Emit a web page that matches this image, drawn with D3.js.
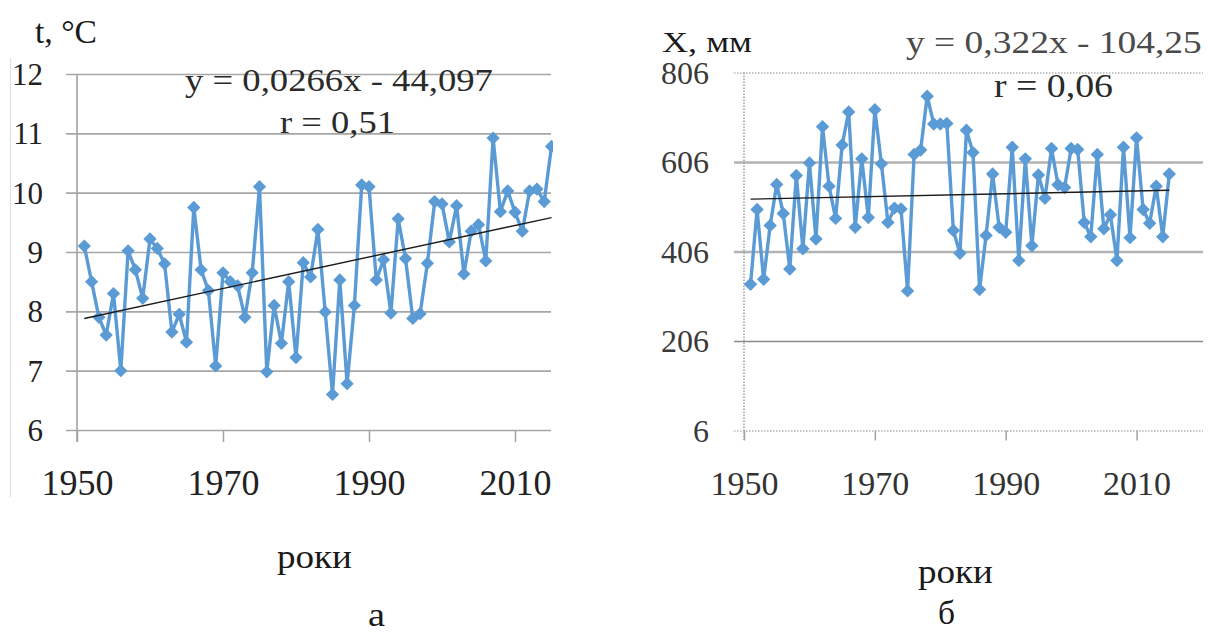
<!DOCTYPE html>
<html lang="uk">
<head>
<meta charset="utf-8">
<title>t, X - роки</title>
<script src="https://d3js.org/d3.v7.min.js"></script>
<style>
  body{margin:0;background:#fff;}
</style>
</head>
<body>
<svg id="chart" width="1208" height="634" font-family="Times New Roman"></svg>
<script>
// data
var years = d3.range(1951, 2016)
var tempC = [9.1, 8.5, 7.9, 7.6, 8.3, 7.0, 9.02, 8.7, 8.22, 9.22,
  9.06, 8.8, 7.65, 7.95, 7.48, 9.75, 8.7, 8.35, 7.08, 8.65,
  8.5, 8.43, 7.9, 8.65, 10.1, 6.98, 8.1, 7.46, 8.5, 7.22,
  8.82, 8.58, 9.38, 7.99, 6.6, 8.53, 6.78, 8.1, 10.13, 10.1,
  8.53, 8.87, 7.97, 9.56, 8.89, 7.88, 7.96, 8.81, 9.85, 9.81,
  9.17, 9.78, 8.63, 9.35, 9.46, 8.85, 10.92, 9.68, 10.03, 9.67,
  9.35, 10.03, 10.06, 9.85, 10.78]
var precMm = [333, 500, 344, 464, 556, 491, 367, 576, 412, 604,
  434, 685, 552, 480, 644, 718, 460, 613, 482, 723,
  602, 471, 503, 501, 318, 623, 633, 753, 691, 691,
  692, 453, 402, 677, 627, 321, 442, 579, 460, 449,
  639, 386, 613, 419, 577, 525, 636, 555, 549, 636,
  634, 471, 439, 623, 457, 488, 386, 639, 437, 660,
  500, 469, 552, 439, 579]
var trendYears = [1951, 2015]
var tempTrend = [7.88, 9.58]
var precTrend = [523, 543]
var tempTicks = [6, 7, 8, 9, 10, 11, 12]
var precTicks = [6, 206, 406, 606, 806]
var yearTicks = [1950, 1970, 1990, 2010]

var FONT = "Times New Roman"
var svg = d3.select("#chart")
var blue = "#5b9bd5"

function drawPanel(p){
  var x = d3.scaleLinear().domain(p.xDomain).range(p.xRange)
  var y = d3.scaleLinear().domain(p.yDomain).range(p.yRange)
  var g = svg.append("g")

  g.append("clipPath").attr("id", p.id + "clip")
    .append("rect")
    .attr("x", p.xRange[0] - 10).attr("y", 0)
    .attr("width", p.clipRight - p.xRange[0] + 10).attr("height", 470)

  // horizontal gridlines + y labels
  var yAxis = d3.axisLeft(y).tickValues(p.yTicks).tickFormat(d3.format("d"))
    .tickSize(-(p.gridRight - p.gridLeft)).tickPadding(p.gridLeft - p.labelRight)
  var ya = g.append("g").attr("transform", "translate(" + p.gridLeft + ",0)").call(yAxis)
  ya.attr("font-family", FONT)
  ya.select(".domain").remove()
  ya.selectAll(".tick line").each(function(d, i){ p.gridStyle(d3.select(this), i) })
  ya.selectAll(".tick text")
    .attr("font-family", FONT)
    .attr("font-size", p.yFont).attr("fill", p.yColor).attr("dy", "0.34em")

  // vertical axis line
  var vx = x(p.xDomain[0])
  g.append("line").attr("x1", vx).attr("x2", vx)
    .attr("y1", y(p.yDomain[1])).attr("y2", y(p.yDomain[0]) + p.tick)
    .attr("stroke", "#a3a3a3").attr("stroke-width", 1.6)
    .attr("stroke-dasharray", p.dotted ? "1.5,1.5" : null)

  // x ticks and labels
  var xAxis = d3.axisBottom(x).tickValues(yearTicks).tickFormat(d3.format("d"))
    .tickSize(p.tick).tickPadding(0)
  var xa = g.append("g").attr("transform", "translate(0," + y(p.yDomain[0]) + ")").call(xAxis)
  xa.attr("font-family", FONT)
  xa.select(".domain").remove()
  xa.selectAll(".tick line").attr("stroke", "#a3a3a3").attr("stroke-width", 1.5)
  xa.selectAll(".tick text")
    .attr("font-family", FONT)
    .attr("font-size", p.xFont).attr("fill", p.xColor)
    .attr("y", p.xLabelBase - y(p.yDomain[0])).attr("dy", 0)

  var plot = g.append("g").attr("clip-path", "url(#" + p.id + "clip)")

  var line = d3.line().x(function(d, i){ return x(years[i]) }).y(function(d){ return y(d) })
  plot.append("path").datum(p.values)
    .attr("d", line).attr("fill", "none")
    .attr("stroke", blue).attr("stroke-width", 3.4).attr("stroke-linejoin", "round")

  var sym = d3.symbol().type(d3.symbolSquare).size(p.markerSize)
  plot.selectAll(".mk").data(p.values).enter().append("path")
    .attr("class", "mk")
    .attr("d", sym)
    .attr("fill", blue)
    .attr("transform", function(d, i){
      return "translate(" + x(years[i]) + "," + y(d) + ") rotate(45)"
    })

  // trend line
  plot.append("line")
    .attr("x1", x(trendYears[0])).attr("y1", y(p.trend[0]))
    .attr("x2", x(trendYears[1])).attr("y2", y(p.trend[1]))
    .attr("stroke", "#1b1b1b").attr("stroke-width", 1.4)

  return g
}

drawPanel({
  id: "a", values: tempC, trend: tempTrend, yTicks: tempTicks,
  xDomain: [1950, 2015], xRange: [77, 551.5],
  yDomain: [6, 12], yRange: [430, 74],
  gridLeft: 66, gridRight: 551, clipRight: 553, labelRight: 43,
  yFont: 31, yColor: "#222",
  xFont: 36, xColor: "#222", xLabelBase: 495,
  tick: 12, markerSize: 88, dotted: false,
  gridStyle: function(l){ l.attr("stroke", "#a6a6a6").attr("stroke-width", 1.6) }
})

drawPanel({
  id: "b", values: precMm, trend: precTrend, yTicks: precTicks,
  xDomain: [1950, 2020], xRange: [744, 1202],
  yDomain: [6, 806], yRange: [430.5, 72.5],
  gridLeft: 734, gridRight: 1203, clipRight: 1205, labelRight: 709,
  yFont: 32, yColor: "#3a3a3a",
  xFont: 34, xColor: "#333", xLabelBase: 495,
  tick: 10, markerSize: 90, dotted: true,
  gridStyle: function(l, i){
    if (i === 0 || i === 4) l.attr("stroke", "#8c8c8c").attr("stroke-width", 1.2).attr("stroke-dasharray", "1.5,1.5")
    else if (i === 1) l.attr("stroke", "#8a8a8a").attr("stroke-width", 1.4)
    else l.attr("stroke", "#b2b2b2").attr("stroke-width", 2.6)
  }
})

// left frame edge of panel a
svg.append("line").attr("x1", 10.5).attr("x2", 10.5).attr("y1", 58).attr("y2", 497)
  .attr("stroke", "#e2e2e2").attr("stroke-width", 1.2)

// texts; stretched sideways to the width they have in the picture
function txt(s, xx, yy, size, len, color){
  var t = svg.append("text").text(s)
    .attr("x", 0).attr("y", 0).attr("font-size", size)
    .attr("font-family", FONT)
    .attr("fill", color || "#1a1a1a")
  var sx = 1
  try { var w = t.node().getComputedTextLength(); if (w > 0) sx = len / w } catch (e) {}
  t.attr("transform", "translate(" + xx + "," + yy + ") scale(" + sx + ",1)")
  return t
}
txt("t, \u00B0C", 35, 43, 33, 62)
txt("y = 0,0266x - 44,097", 185, 91, 32, 308, "#2a2a2a")
txt("r = 0,51", 280, 133, 32, 115, "#2a2a2a")
txt("X, мм", 662, 52, 30, 90)
txt("y = 0,322x - 104,25", 906, 53, 31, 296, "#4a4a4a")
txt("r = 0,06", 994, 97, 33, 119, "#2a2a2a")
txt("роки", 277, 568, 34, 75)
txt("роки", 918, 583, 34, 75)
txt("а", 368, 626, 34, 17)
txt("б", 938, 624, 34, 17)
</script>
</body>
</html>
